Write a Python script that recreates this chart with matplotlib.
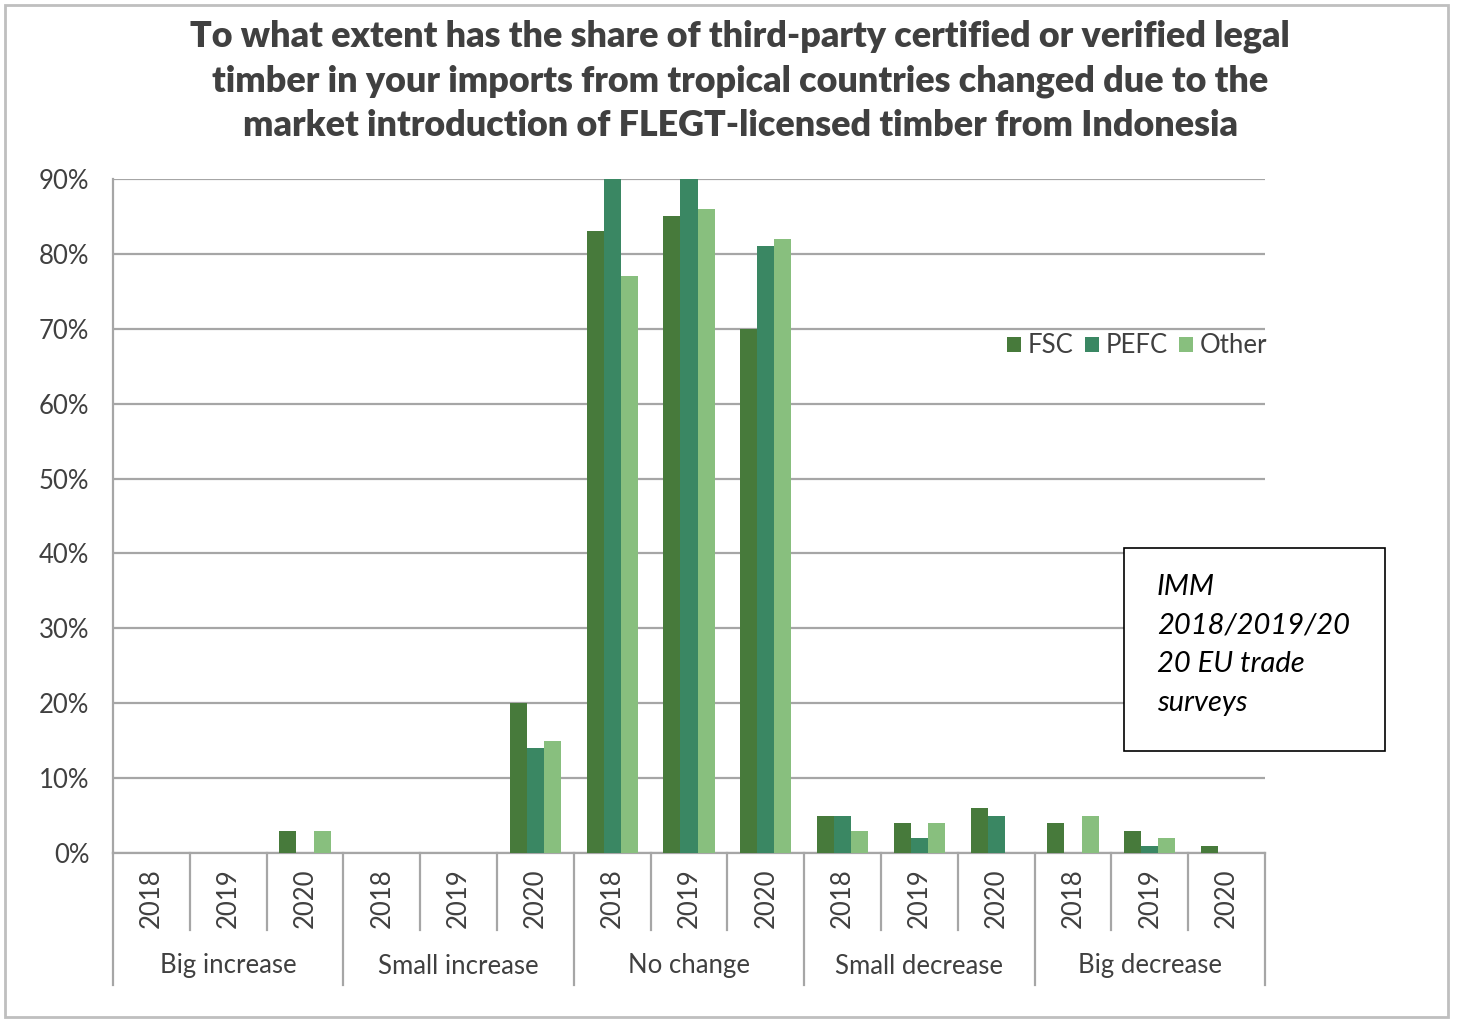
import matplotlib
matplotlib.use("Agg")
import matplotlib.pyplot as plt
import matplotlib.transforms as mtransforms
from matplotlib.patches import Rectangle
import numpy as np

plt.rcParams['font.family'] = ['Lato', 'DejaVu Sans']

groups = ["Big increase", "Small increase", "No change", "Small decrease", "Big decrease"]
years = ["2018", "2019", "2020"]
series_names = ["FSC", "PEFC", "Other"]
fsc = [0, 0, 3, 0, 0, 20, 83, 85, 70, 5, 4, 6, 4, 3, 1]
pefc = [0, 0, 0, 0, 0, 14, 90, 90, 81, 5, 2, 5, 0, 1, 0]
other = [0, 0, 3, 0, 0, 15, 77, 86, 82, 3, 4, 0, 5, 2, 0]
yticks = [0, 10, 20, 30, 40, 50, 60, 70, 80, 90]
colors = ["#477A3B", "#3A8763", "#88BF7E"]
title = ("To what extent has the share of third-party certified or verified legal\n"
         "timber in your imports from tropical countries changed due to the\n"
         "market introduction of FLEGT-licensed timber from Indonesia")
note = "IMM\n2018/2019/20\n20 EU trade\nsurveys"

W, H = 1457, 1026
fig = plt.figure(figsize=(W / 100, H / 100), dpi=100)
L, R, T, B = 113, 1265, 179, 853
ax = fig.add_axes([L / W, 1 - B / H, (R - L) / W, (B - T) / H])

n = len(fsc)
x = np.arange(n)
bw = 0.222
for i, (vals, c, name) in enumerate(zip([fsc, pefc, other], colors, series_names)):
    ax.bar(x + (i - 1) * bw, vals, width=bw, color=c, label=name, zorder=3)

txtc = "#404040"
fs = 18.5
ax.set_xlim(-0.5, n - 0.5)
ax.set_ylim(0, 90)
ax.set_yticks(yticks)
ax.set_yticklabels([f"{v}%" for v in yticks], fontsize=fs, color=txtc)
ax.tick_params(axis="y", length=0, pad=17)
ax.set_xticks([])
ax.yaxis.grid(True, color="#A6A6A6", linewidth=1.6, zorder=0)
ax.set_axisbelow(True)
for s in ["top", "right"]:
    ax.spines[s].set_visible(False)
for s in ["left", "bottom"]:
    ax.spines[s].set_color("#A6A6A6")
    ax.spines[s].set_linewidth(1.6)

trans = mtransforms.blended_transform_factory(ax.transData, ax.transAxes)
ax_h = B - T
yr_bot = -(930 - B) / ax_h
grp_bot = -(985 - B) / ax_h
for k in range(n + 1):
    xb = k - 0.5
    ybot = grp_bot if k % 3 == 0 else yr_bot
    ax.plot([xb, xb], [0, ybot], transform=trans, color="#A6A6A6",
            linewidth=1.6, clip_on=False, zorder=1)
for k in range(n):
    ax.text(k, -(898 - B) / ax_h, years[k % 3], transform=trans, rotation=90,
            ha="center", va="center", fontsize=fs, color=txtc)
for g, name in enumerate(groups):
    ax.text(g * 3 + 1, -(966 - B) / ax_h, name, transform=trans,
            ha="center", va="center", fontsize=fs, color=txtc)

leg = ax.legend(loc="center right", bbox_to_anchor=(1.011, (B - 346) / ax_h),
                ncol=3, frameon=False, fontsize=fs, handlelength=0.55,
                handleheight=0.55, handletextpad=0.25, columnspacing=0.45,
                borderaxespad=0)
for t in leg.get_texts():
    t.set_color(txtc)

fig.text(0.508, 1 - 81 / H, title, ha="center", va="center", fontsize=25.8,
         fontweight="heavy", color=txtc, linespacing=1.42)

fig.patches.append(Rectangle((1124 / W, 1 - 751 / H), (1385 - 1124) / W, (751 - 548) / H,
                             transform=fig.transFigure, facecolor="white",
                             edgecolor="black", linewidth=1.2, zorder=5))
fig.text(1157 / W, 1 - 645 / H, note, ha="left", va="center", fontsize=21,
         style="italic", color="black", linespacing=1.6, zorder=6)

fig.patches.append(Rectangle((5 / W, 1 - 1017 / H), (1448 - 5) / W, (1017 - 5) / H,
                             transform=fig.transFigure, facecolor="none",
                             edgecolor="#BFBFBF", linewidth=2))

fig.savefig("out.png", dpi=100)
